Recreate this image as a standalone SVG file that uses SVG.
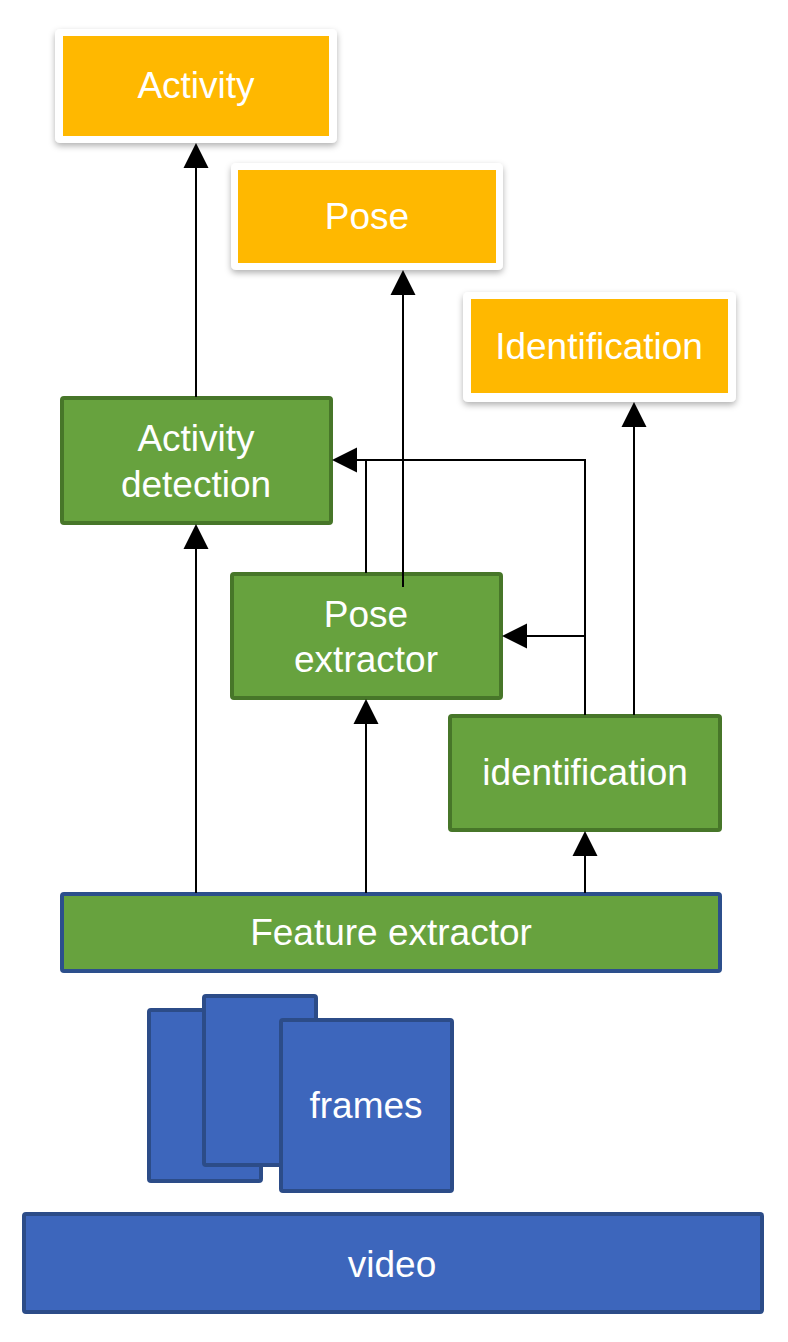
<svg xmlns="http://www.w3.org/2000/svg" width="788" height="1342" viewBox="0 0 788 1342">
<style>
.card{fill:#fff;filter:url(#sh)}
.out{fill:#FFB800}
.g{fill:#67A23E;stroke:#477629;stroke-width:4}
.fe{fill:#67A23E;stroke:#2C4F8C;stroke-width:4}
.b{fill:#3D66BC;stroke:#2C4C88;stroke-width:4}
text{font-family:"Liberation Sans",Arimo,Helvetica,sans-serif;font-size:37px;fill:#fff;text-anchor:middle}
.c line,.c polyline{stroke:#000;stroke-width:2;fill:none}
</style>
<defs>
<filter id="sh" x="-10%" y="-10%" width="120%" height="130%">
<feDropShadow dx="0" dy="3" stdDeviation="3" flood-color="#000" flood-opacity="0.3"/>
</filter>
</defs>
<g id="activity"><rect class="card" x="55" y="29" width="282" height="114" rx="5"/><rect class="out" x="63" y="36" width="266" height="100"/><text x="196" y="98">Activity</text></g>
<g id="pose"><rect class="card" x="231" y="163" width="272" height="107" rx="5"/><rect class="out" x="238" y="170" width="258" height="93"/><text x="367" y="229">Pose</text></g>
<g id="identification-out"><rect class="card" x="463" y="292" width="273" height="110" rx="5"/><rect class="out" x="471" y="299" width="257" height="94"/><text x="599" y="359">Identification</text></g>
<g id="activity-detection"><rect class="g" x="62" y="398" width="269" height="125" rx="2"/><text x="196" y="451">Activity</text><text x="196" y="497">detection</text></g>
<g id="pose-extractor"><rect class="g" x="232" y="574" width="269" height="124" rx="2"/><text x="366" y="627">Pose</text><text x="366" y="672">extractor</text></g>
<g id="identification"><rect class="g" x="450" y="716" width="270" height="114" rx="2"/><text x="585" y="785">identification</text></g>
<g id="feature-extractor"><rect class="fe" x="62" y="894" width="658" height="77" rx="2"/><text x="391" y="945">Feature extractor</text></g>
<g id="frames"><rect class="b" x="149" y="1010" width="112" height="171" rx="2"/><rect class="b" x="204" y="996" width="112" height="169" rx="2"/><rect class="b" x="281" y="1020" width="171" height="171" rx="2"/><text x="366" y="1118">frames</text></g>
<g id="video"><rect class="b" x="24" y="1214" width="738" height="98" rx="2"/><text x="392" y="1277">video</text></g>
<g class="c" id="connectors">
<line x1="196" y1="397" x2="196" y2="150"/><path d="M196,143 L183.5,168 L208.5,168 Z"/>
<line x1="196" y1="893" x2="196" y2="530"/><path d="M196,524 L183.5,549 L208.5,549 Z"/>
<line x1="366" y1="893" x2="366" y2="705"/><path d="M366,699 L353.5,724 L378.5,724 Z"/>
<line x1="585" y1="893" x2="585" y2="837"/><path d="M585,831 L572.5,856 L597.5,856 Z"/>
<line x1="403" y1="587" x2="403" y2="276"/><path d="M403,270 L390.5,295 L415.5,295 Z"/>
<polyline points="366,573 366,460 340,460"/>
<polyline points="585,715 585,460 357,460"/><path d="M332,460 L357,447.5 L357,472.5 Z"/>
<line x1="585" y1="636" x2="510" y2="636"/><path d="M502,636 L527,623.5 L527,648.5 Z"/>
<line x1="634" y1="715" x2="634" y2="408"/><path d="M634,402 L621.5,427 L646.5,427 Z"/>
</g>
</svg>
